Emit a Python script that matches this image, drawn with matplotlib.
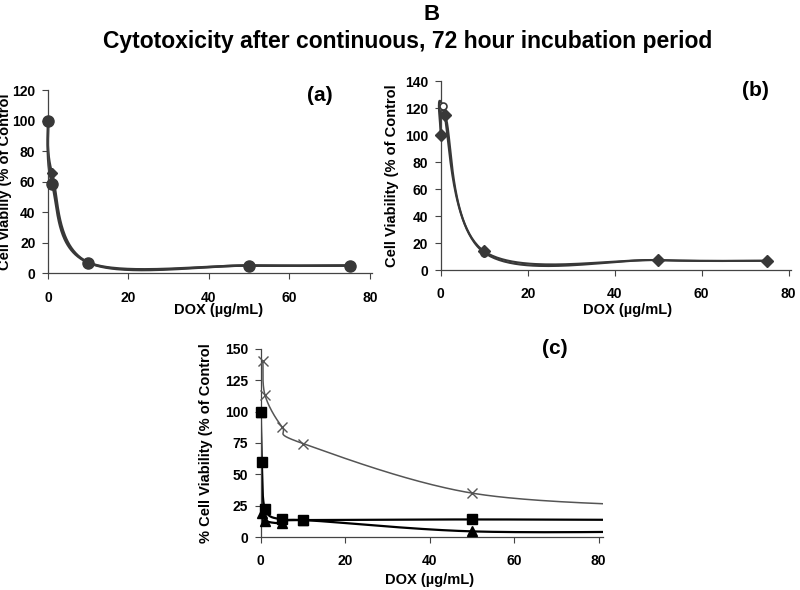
import numpy as np
import matplotlib
matplotlib.use('Agg')
import matplotlib.pyplot as plt

plt.rcParams['font.family'] = ['Liberation Sans', 'DejaVu Sans']
plt.rcParams['font.weight'] = 'bold'

# panel (a)
a_x1 = [0, 1, 10, 50, 75]
a_y1 = [100, 58.5, 7, 5, 5]
a_x2 = [0, 1, 10, 50, 75]
a_y2 = [100, 65.5, 7, 5, 5]

# panel (b)
b_x1 = [0, 1, 10, 50, 75]
b_y1 = [100, 115, 14, 7.5, 7]
b_x2 = [0, 0.4, 10, 50, 75]
b_y2 = [100, 122, 13, 7.5, 7]

# panel (c), last point lies past the axis end
c_cross_x = [0.5, 1, 5, 10, 50, 100]
c_cross_y = [140, 113, 88, 74.5, 35, 24]
c_sq_x = [0, 0.25, 1, 5, 10, 50, 100]
c_sq_y = [100, 60, 22, 14, 13.5, 14, 13.5]
c_tri_x = [0, 0.25, 1, 5, 10, 50, 100]
c_tri_y = [100, 19, 13, 11, 13.5, 4.5, 4.5]

DARK = '#383838'
LAB = 10.5


def smooth(ax, xs, ys, n=60):
    # Excel style smoothed line (bezier through points), done in screen space
    x0, x1 = ax.get_xlim()
    y0, y1 = ax.get_ylim()
    bb = ax.get_position()
    W = bb.width * 800
    H = bb.height * 590
    u = (np.array(xs, float) - x0) / (x1 - x0) * W
    v = (np.array(ys, float) - y0) / (y1 - y0) * H
    P = np.column_stack([u, v])
    m = len(P)
    out = []
    t = np.linspace(0, 1, n)[:, None]
    for i in range(m - 1):
        pm = P[i - 1] if i > 0 else P[i]
        p0 = P[i]
        p1 = P[i + 1]
        p2 = P[i + 2] if i + 2 < m else P[i + 1]
        c1 = p0 + (p1 - pm) / 6
        c2 = p1 - (p2 - p0) / 6
        seg = ((1 - t) ** 3) * p0 + 3 * ((1 - t) ** 2) * t * c1 + 3 * (1 - t) * t ** 2 * c2 + t ** 3 * p1
        out.append(seg)
    out = np.vstack(out)
    return out[:, 0] / W * (x1 - x0) + x0, out[:, 1] / H * (y1 - y0) + y0


def visible(ax, xs, ys):
    xmax = ax.get_xlim()[1]
    pts = [(x, y) for x, y in zip(xs, ys) if x <= xmax]
    return [p[0] for p in pts], [p[1] for p in pts]


def style(ax, ymax, ystep, xmax, xpad):
    ax.set_xlim(0, xmax)
    ax.set_ylim(0, ymax)
    ax.set_xticks([0, 20, 40, 60, 80])
    ax.set_yticks(np.arange(0, ymax + 1, ystep))
    for s in ['top', 'right']:
        ax.spines[s].set_visible(False)
    for s in ['left', 'bottom']:
        ax.spines[s].set_color('#444444')
        ax.spines[s].set_linewidth(0.9)
    ax.tick_params(axis='x', direction='out', length=4, width=0.8, pad=xpad,
                   labelsize=10, colors='#444444', labelcolor='black')
    ax.tick_params(axis='y', direction='out', length=4, width=0.8, pad=5,
                   labelsize=10, colors='#444444', labelcolor='black')
    for lab in ax.get_xticklabels() + ax.get_yticklabels():
        lab.set_fontweight('bold')


fig = plt.figure(figsize=(8, 5.9), dpi=100)
fig.text(0.54, 0.976, 'B', ha='center', va='center', fontsize=16, fontweight='bold')
fig.text(0.51, 0.930, 'Cytotoxicity after continuous, 72 hour incubation period',
         ha='center', va='center', fontsize=16.5, fontweight='bold')

# (a)
axa = fig.add_axes([0.06, 0.537, 0.405, 0.310])
style(axa, 120, 20, 80.5, 8.5)
for xs, ys, mk, ms in [(a_x2, a_y2, 'D', 5), (a_x1, a_y1, 'o', 8)]:
    sx, sy = smooth(axa, xs, ys)
    axa.plot(sx, sy, color=DARK, lw=1.8, clip_on=False, zorder=2)
    axa.plot(xs, ys, ls='none', marker=mk, ms=ms, color=DARK, clip_on=False, zorder=3)
axa.text(0.84, 0.97, '(a)', transform=axa.transAxes, ha='center', va='center',
         fontsize=15, fontweight='bold')
axa.set_ylabel('Cell viabiliy (% of Control', fontsize=LAB, fontweight='bold')
axa.yaxis.set_label_coords(-0.11, 0.5)
axa.set_xlabel('DOX (µg/mL)', fontsize=LAB, fontweight='bold')
axa.xaxis.set_label_coords(0.525, -0.165)

# (b)
axb = fig.add_axes([0.551, 0.542, 0.4375, 0.320])
style(axb, 140, 20, 80.5, 8)
sx, sy = smooth(axb, b_x2, b_y2)
axb.plot(sx, sy, color=DARK, lw=1.5, clip_on=False, zorder=2)
axb.plot(b_x2, b_y2, ls='none', marker='o', ms=5, mfc='white', mec=DARK, mew=1.2,
         clip_on=False, zorder=3)
sx, sy = smooth(axb, b_x1, b_y1)
axb.plot(sx, sy, color=DARK, lw=1.5, clip_on=False, zorder=2)
axb.plot(b_x1, b_y1, ls='none', marker='D', ms=6.5, color=DARK, clip_on=False, zorder=4)
axb.text(0.9, 0.95, '(b)', transform=axb.transAxes, ha='center', va='center',
         fontsize=15, fontweight='bold')
axb.set_ylabel('Cell Viability (% of Control', fontsize=LAB, fontweight='bold')
axb.yaxis.set_label_coords(-0.12, 0.5)
axb.set_xlabel('DOX (µg/mL)', fontsize=LAB, fontweight='bold')
axb.xaxis.set_label_coords(0.534, -0.175)

# (c)
axc = fig.add_axes([0.326, 0.0898, 0.4275, 0.319])
style(axc, 150, 25, 81, 8)
sx, sy = smooth(axc, c_cross_x, c_cross_y)
axc.plot(sx, sy, color='#555555', lw=1.1, zorder=2)
mx, my = visible(axc, c_cross_x, c_cross_y)
axc.plot(mx, my, ls='none', marker='x', ms=7, mew=1, color='#555555', clip_on=False, zorder=3)
sx, sy = smooth(axc, c_tri_x, c_tri_y)
axc.plot(sx, sy, color='black', lw=1.6, zorder=2)
mx, my = visible(axc, c_tri_x, c_tri_y)
axc.plot(mx, my, ls='none', marker='^', ms=7, color='black', clip_on=False, zorder=3)
sx, sy = smooth(axc, c_sq_x, c_sq_y)
axc.plot(sx, sy, color='black', lw=1.6, zorder=2)
mx, my = visible(axc, c_sq_x, c_sq_y)
axc.plot(mx, my, ls='none', marker='s', ms=7, color='black', clip_on=False, zorder=4)
axc.text(0.86, 1.0, '(c)', transform=axc.transAxes, ha='center', va='center',
         fontsize=15, fontweight='bold')
axc.set_ylabel('% Cell Viability (% of Control', fontsize=LAB, fontweight='bold')
axc.yaxis.set_label_coords(-0.14, 0.5)
axc.set_xlabel('DOX (µg/mL)', fontsize=LAB, fontweight='bold')
axc.xaxis.set_label_coords(0.494, -0.19)

fig.savefig('out.png', dpi=100)
